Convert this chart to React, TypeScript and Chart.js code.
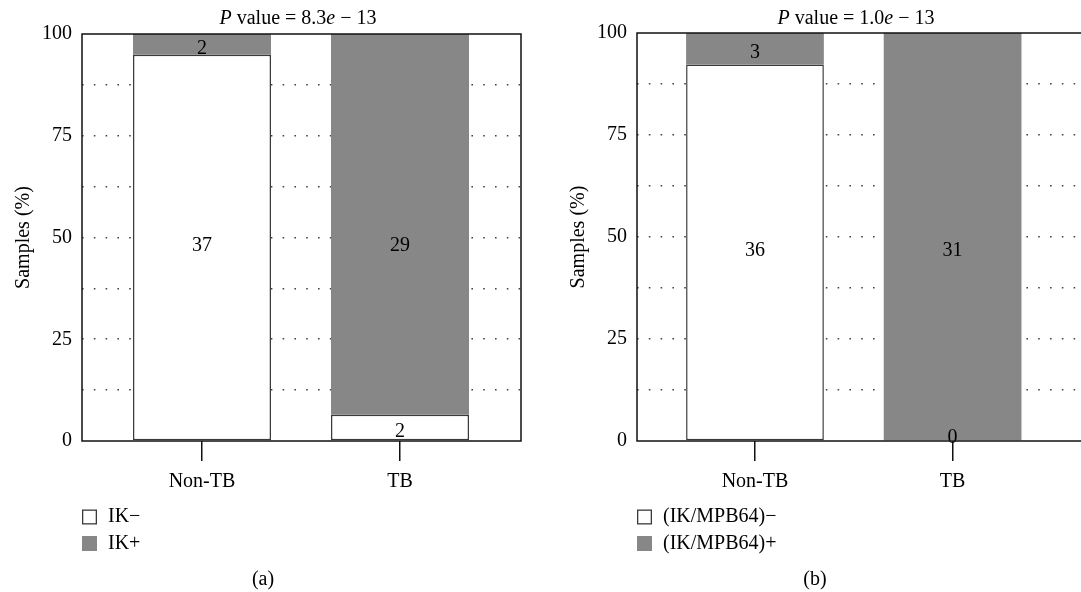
import React, { useEffect, useRef } from 'react';
import { Chart, registerables } from 'chart.js';

Chart.register(...registerables);

// ---------- data ----------
const categories = ['Non-TB', 'TB'];
const ikNegCounts = [37, 2];
const ikPosCounts = [2, 29];
const mpbNegCounts = [36, 0];
const mpbPosCounts = [3, 31];
const yTickValues = [0, 25, 50, 75, 100];
const legendA = ['IK−', 'IK+'];
const legendB = ['(IK/MPB64)−', '(IK/MPB64)+'];
const pValueA = ['8.3', '13'];
const pValueB = ['1.0', '13'];
const captions = ['(a)', '(b)'];

const FONT = "'Liberation Serif', 'Times New Roman', serif";
const GRAY = '#878787';
const EDGE = '#3a3a3a';

type Panel = {
  neg: number[];
  pos: number[];
  legend: string[];
  pValue: string[];
  caption: string;
  left: number;
  width: number;
  pad: { left: number; right: number; top: number; bottom: number };
  xMin: number;
  xMax: number;
  titleX: number;
  captionX: number;
};

const panels: Panel[] = [
  {
    neg: ikNegCounts, pos: ikPosCounts, legend: legendA, pValue: pValueA, caption: captions[0],
    left: 0, width: 540, pad: { left: 0, right: 19, top: 34, bottom: 91 },
    xMin: -0.606, xMax: 1.611, titleX: 298, captionX: 263,
  },
  {
    neg: mpbNegCounts, pos: mpbPosCounts, legend: legendB, pValue: pValueB, caption: captions[1],
    left: 540, width: 560, pad: { left: 15, right: 15, top: 33, bottom: 91 },
    xMin: -0.597, xMax: 1.67, titleX: 316, captionX: 275,
  },
];

function makePlugins(p: Panel) {
  return [
    {
      id: 'boxAndLabels',
      afterDatasetsDraw(chart: any) {
        const ctx = chart.ctx;
        const a = chart.chartArea;
        const yScale = chart.scales.y;
        // large segments share one label row: the middle of the first category's lower segment
        const rowY = yScale.getPixelForValue(chart.data.datasets[0].data[0].y / 2);
        const plotH = a.bottom - a.top;
        ctx.save();
        ctx.font = `20px ${FONT}`;
        ctx.fillStyle = '#000';
        ctx.textAlign = 'center';
        ctx.textBaseline = 'middle';
        chart.data.datasets.forEach((ds: any, di: number) => {
          const meta = chart.getDatasetMeta(di);
          meta.data.forEach((el: any, i: number) => {
            const h = Math.abs(el.base - el.y);
            let cy = (el.y + el.base) / 2;
            if (h > plotH / 2) cy = rowY - 2;
            else if (h > 0.5) cy += 4;
            else cy -= 3;
            ctx.fillText(String(ds.counts[i]), el.x, cy);
          });
        });
        ctx.strokeStyle = '#111';
        ctx.lineWidth = 1.5;
        ctx.strokeRect(a.left, a.top, a.right - a.left, a.bottom - a.top);
        ctx.restore();
      },
    },
    {
      id: 'titleLegendCaption',
      afterDraw(chart: any) {
        const ctx = chart.ctx;
        const a = chart.chartArea;
        ctx.save();
        ctx.fillStyle = '#000';
        ctx.textBaseline = 'alphabetic';
        const pieces = [
          { t: 'P', it: true },
          { t: ' value = ' + p.pValue[0], it: false },
          { t: 'e', it: true },
          { t: ' − ' + p.pValue[1], it: false },
        ];
        let total = 0;
        const widths = pieces.map((pc) => {
          ctx.font = `${pc.it ? 'italic ' : ''}20px ${FONT}`;
          const w = ctx.measureText(pc.t).width;
          total += w;
          return w;
        });
        let x = p.titleX - total / 2;
        ctx.textAlign = 'left';
        pieces.forEach((pc, i) => {
          ctx.font = `${pc.it ? 'italic ' : ''}20px ${FONT}`;
          ctx.fillText(pc.t, x, 24);
          x += widths[i];
        });
        ctx.font = `20px ${FONT}`;
        ctx.textBaseline = 'middle';
        chart.data.datasets.forEach((ds: any, i: number) => {
          const cy = a.bottom + 76 + 26.5 * i;
          const sx = a.left;
          if (i === 0) {
            ctx.fillStyle = '#fff';
            ctx.fillRect(sx, cy - 7.5, 15, 15);
            ctx.strokeStyle = EDGE;
            ctx.lineWidth = 1.3;
            ctx.strokeRect(sx + 0.65, cy - 6.85, 13.7, 13.7);
          } else {
            ctx.fillStyle = GRAY;
            ctx.fillRect(sx, cy - 7.5, 15, 15);
          }
          ctx.fillStyle = '#000';
          ctx.textAlign = 'left';
          ctx.fillText(ds.label, sx + 26, cy);
        });
        ctx.textAlign = 'center';
        ctx.fillText(p.caption, p.captionX, 580);
        ctx.restore();
      },
    },
  ];
}

function buildChart(canvas: HTMLCanvasElement, p: Panel) {
  const totals = p.neg.map((v, i) => v + p.pos[i]);
  const negPct = p.neg.map((v, i) => ({ x: i, y: (100 * v) / totals[i] }));
  const posPct = p.pos.map((v, i) => ({ x: i, y: (100 * v) / totals[i] }));
  return new Chart(canvas, {
    type: 'bar',
    data: {
      datasets: [
        {
          label: p.legend[0],
          data: negPct,
          counts: p.neg,
          stack: 's',
          backgroundColor: '#fff',
          borderColor: EDGE,
          borderWidth: 1.5,
          borderSkipped: false,
          barPercentage: 0.697,
          categoryPercentage: 1,
        } as any,
        {
          label: p.legend[1],
          data: posPct,
          counts: p.pos,
          stack: 's',
          backgroundColor: GRAY,
          borderWidth: 0,
          barPercentage: 0.697,
          categoryPercentage: 1,
        } as any,
      ],
    },
    options: {
      responsive: false,
      animation: false,
      events: [],
      layout: { padding: p.pad },
      plugins: { legend: { display: false }, title: { display: false }, tooltip: { enabled: false } },
      scales: {
        x: {
          type: 'linear',
          stacked: true,
          offset: false,
          min: p.xMin,
          max: p.xMax,
          afterBuildTicks: (scale: any) => {
            scale.ticks = categories.map((_, i) => ({ value: i }));
          },
          afterFit: (scale: any) => {
            scale.height = 60;
          },
          ticks: {
            autoSkip: false,
            maxRotation: 0,
            padding: 9,
            color: '#000',
            font: { family: FONT, size: 20 },
            callback: (_v: any, i: number) => categories[i],
          },
          grid: { offset: false, drawOnChartArea: false, drawTicks: true, tickLength: 20, color: '#111', lineWidth: 1.5 },
          border: { display: false },
        },
        y: {
          type: 'linear',
          stacked: true,
          min: 0,
          max: 100,
          afterBuildTicks: (scale: any) => {
            const t: any[] = [];
            for (let i = 0; i < yTickValues.length; i++) {
              t.push({ value: yTickValues[i] });
              if (i < yTickValues.length - 1) t.push({ value: (yTickValues[i] + yTickValues[i + 1]) / 2 });
            }
            scale.ticks = t;
          },
          afterFit: (scale: any) => {
            scale.width = 82;
          },
          ticks: {
            autoSkip: false,
            padding: 10,
            color: '#000',
            font: { family: FONT, size: 20 },
            callback: (v: any) => (yTickValues.includes(v) ? String(v) : ''),
          },
          grid: {
            drawTicks: false,
            lineWidth: 1.6,
            color: (c: any) => (c.tick && (c.tick.value === 0 || c.tick.value === 100) ? 'rgba(0,0,0,0)' : '#444'),
          } as any,
          border: { display: false, dash: [1.6, 10.2] } as any,
          title: {
            display: true,
            text: 'Samples (%)',
            color: '#000',
            font: { family: FONT, size: 20 },
            padding: { top: 12, bottom: 0 },
          },
        },
      },
    } as any,
    plugins: makePlugins(p) as any,
  });
}

function PanelChart({ p }: { p: Panel }) {
  const ref = useRef<HTMLCanvasElement | null>(null);
  useEffect(() => {
    if (!ref.current) return;
    const chart = buildChart(ref.current, p);
    return () => chart.destroy();
  }, [p]);
  return (
    <canvas
      ref={ref}
      width={p.width}
      height={592}
      style={{ position: 'absolute', left: p.left, top: 0, width: p.width, height: 592 }}
    />
  );
}

export default function App() {
  useEffect(() => {
    document.body.style.margin = '0';
    document.body.style.overflow = 'hidden';
  }, []);
  return (
    <div style={{ position: 'relative', width: 1081, height: 592, overflow: 'hidden', background: '#fff' }}>
      {panels.map((p, i) => (
        <PanelChart key={i} p={p} />
      ))}
    </div>
  );
}
